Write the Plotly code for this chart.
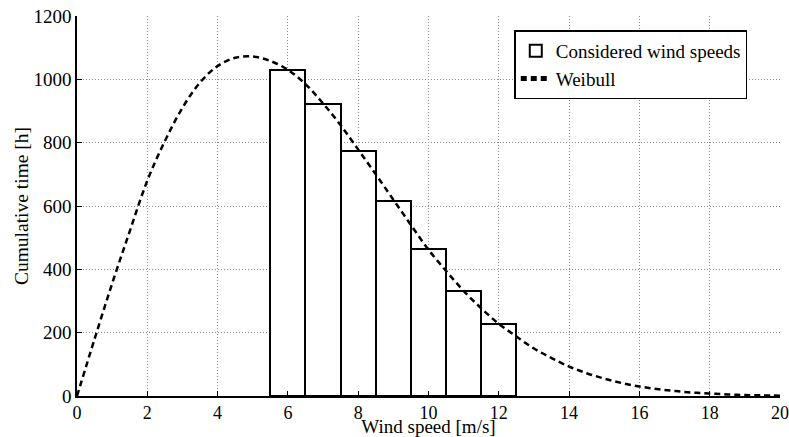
import plotly.graph_objects as go

# Considered wind speeds (bars)
bar_speeds = [6, 7, 8, 9, 10, 11, 12]
bar_hours = [1030, 921, 775, 616, 463, 332, 226]

# Weibull curve
weibull_speed = [0, 0.5, 1, 1.5, 2, 2.5, 3, 3.5, 4, 4.5, 5, 5.5, 6, 6.5, 7, 7.5, 8, 8.5,
                 9, 9.5, 10, 10.5, 11, 11.5, 12, 12.5, 13, 13.5, 14, 14.5, 15, 15.5, 16,
                 16.5, 17, 17.5, 18, 18.5, 19, 19.5, 20]
weibull_hours = [0, 180, 355, 520, 680, 805, 910, 990, 1042, 1068, 1072, 1058, 1030, 985,
                 924, 855, 778, 700, 620, 540, 462, 395, 332, 277, 228, 188, 150, 120, 93,
                 72, 55, 41, 30, 22, 16, 11, 8, 5, 3, 2, 1]

x_ticks = [0, 2, 4, 6, 8, 10, 12, 14, 16, 18, 20]
y_ticks = [0, 200, 400, 600, 800, 1000, 1200]

FONT = "Liberation Serif, serif"

fig = go.Figure()
fig.add_trace(go.Bar(
    x=bar_speeds, y=bar_hours, width=1,
    marker=dict(color="white", line=dict(color="black", width=2)),
    name="Considered wind speeds",
))
fig.add_trace(go.Scatter(
    x=weibull_speed, y=weibull_hours, mode="lines",
    line=dict(color="black", width=2.5, dash="6px,4px", shape="spline"),
    name="Weibull",
))

axis_common = dict(
    showline=True, linecolor="black", linewidth=1.5, mirror=False,
    ticks="inside", ticklen=5, tickcolor="black", tickwidth=1,
    showgrid=True, gridcolor="#8c8c8c", gridwidth=1, griddash="1px,2px",
    zeroline=False, ticklabeloverflow="allow",
    automargin=False,
)

fig.update_xaxes(range=[0, 20], tickvals=x_ticks, ticktext=[str(v) for v in x_ticks],
                 tickfont=dict(family=FONT, size=18, color="black"),
                 title=dict(text="Wind speed [m/s]", font=dict(family=FONT, size=19, color="black"),
                            standoff=4),
                 **axis_common)
fig.update_yaxes(range=[0, 1200], tickvals=y_ticks, ticktext=[str(v) for v in y_ticks],
                 tickfont=dict(family=FONT, size=19, color="black"),
                 title=dict(text="Cumulative time [h]", font=dict(family=FONT, size=19.5, color="black"),
                            standoff=0),
                 **axis_common)

fig.update_layout(
    width=789, height=437,
    margin=dict(l=77, r=9, t=16, b=41),
    plot_bgcolor="white", paper_bgcolor="white",
    font=dict(family=FONT, size=19, color="black"),
    showlegend=True,
    legend=dict(x=0.622, y=0.962, xanchor="left", yanchor="top",
                bgcolor="white", bordercolor="black", borderwidth=1.5,
                font=dict(family=FONT, size=19, color="black"),
                tracegroupgap=0, itemsizing="constant"),
    bargap=0,
)

fig.write_html("out.html", config={"displayModeBar": False},
               post_script="document.body.style.margin='0';")
